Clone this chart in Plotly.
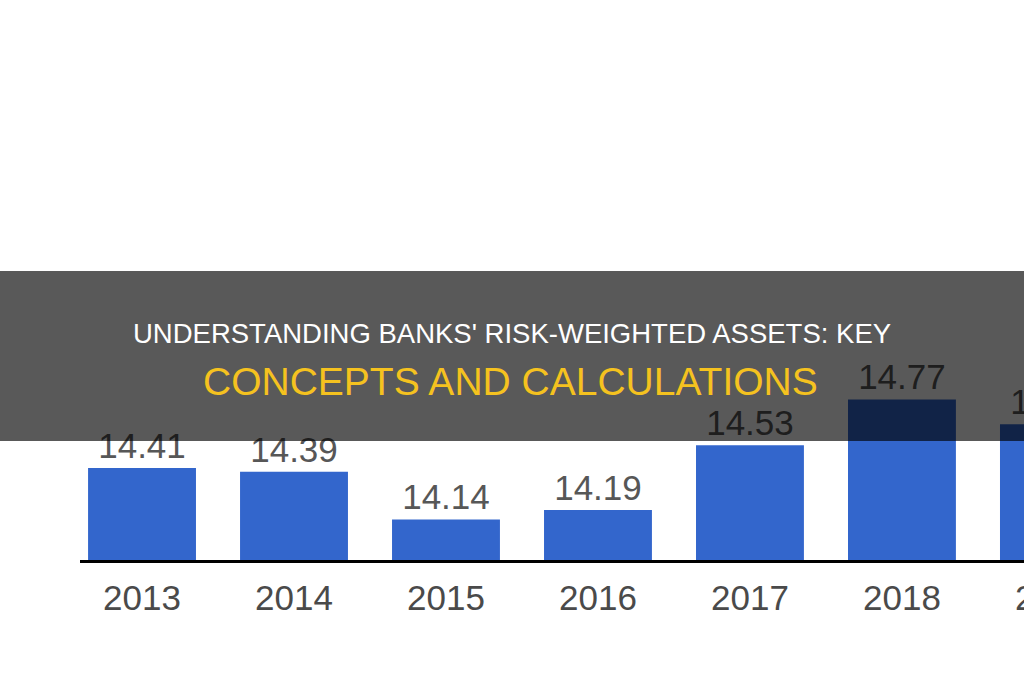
import plotly.graph_objects as go

years = ["2013", "2014", "2015", "2016", "2017", "2018", "2019"]
values = [14.41, 14.39, 14.14, 14.19, 14.53, 14.77, 14.64]
value_labels = ["14.41", "14.39", "14.14", "14.19", "14.53", "14.77", "14.64"]
title_line1 = "UNDERSTANDING BANKS' RISK-WEIGHTED ASSETS: KEY"
title_line2 = "CONCEPTS AND CALCULATIONS"

Y_MIN, Y_MAX = 13.927, 16.867
X_RANGE = [-0.408, 5.803]
FONT = "Liberation Sans, Arial, sans-serif"
PLOT_H = 560
W_PLOT = 1024 - 80

fig = go.Figure()
fig.add_trace(go.Bar(
    x=years, y=values,
    marker=dict(color="#3366cc", line=dict(width=0)),
    text=value_labels, textposition="outside",
    textfont=dict(family=FONT, size=35, color="#575757"),
    cliponaxis=True,
))

# year labels as annotations placed through the category scale
for i, yr in enumerate(years):
    xp = (i - X_RANGE[0]) / (X_RANGE[1] - X_RANGE[0])
    fig.add_annotation(text=yr, xref="paper", yref="paper",
                       x=xp, y=-37.5 / PLOT_H, showarrow=False,
                       xanchor="center", yanchor="middle",
                       font=dict(family=FONT, size=35, color="#4a4a4a"))

fig.add_shape(type="rect", xref="paper", yref="paper",
              x0=-80 / W_PLOT, x1=1.01, y0=1 - 441 / PLOT_H, y1=1 - 271 / PLOT_H,
              fillcolor="rgba(0,0,0,0.65)", line=dict(width=0), layer="above")
fig.add_annotation(text=title_line1, xref="paper", yref="paper",
                   x=(511.5 - 80) / W_PLOT, y=1 - 333.5 / PLOT_H, showarrow=False,
                   xanchor="center", yanchor="middle",
                   font=dict(family=FONT, size=27.5, color="#ffffff"))
fig.add_annotation(text=title_line2, xref="paper", yref="paper",
                   x=(510.5 - 80) / W_PLOT, y=1 - 381.5 / PLOT_H, showarrow=False,
                   xanchor="center", yanchor="middle",
                   font=dict(family=FONT, size=39, color="#f5c21f"))

fig.update_layout(
    width=1024, height=680,
    margin=dict(l=80, r=0, t=0, b=120),
    paper_bgcolor="white", plot_bgcolor="white",
    bargap=0.29, showlegend=False,
    xaxis=dict(type="category", range=X_RANGE, showline=True,
               linecolor="black", linewidth=3, showticklabels=False,
               ticks="", showgrid=False, zeroline=False, fixedrange=True),
    yaxis=dict(range=[Y_MIN, Y_MAX], visible=False, showgrid=False,
               zeroline=False, fixedrange=True),
)

fig.write_html("out.html", config={"displayModeBar": False})
